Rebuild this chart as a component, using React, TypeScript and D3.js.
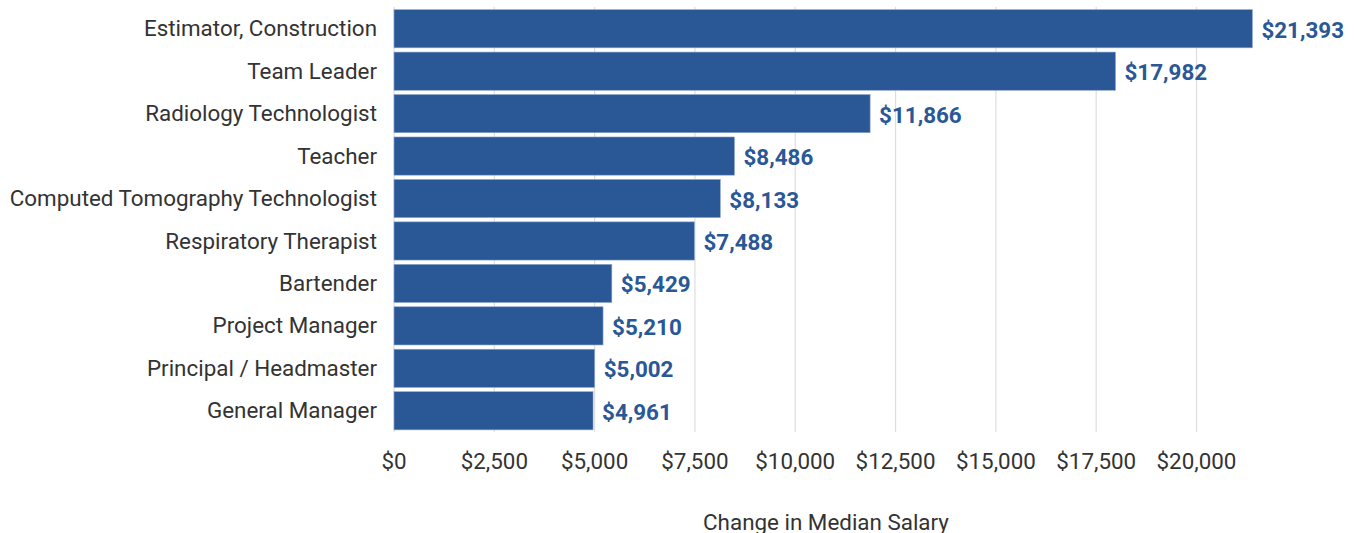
import * as d3 from 'd3';

const categories = [
  'Estimator, Construction',
  'Team Leader',
  'Radiology Technologist',
  'Teacher',
  'Computed Tomography Technologist',
  'Respiratory Therapist',
  'Bartender',
  'Project Manager',
  'Principal / Headmaster',
  'General Manager',
];
const values = [21393, 17982, 11866, 8486, 8133, 7488, 5429, 5210, 5002, 4961];
const ticks = [0, 2500, 5000, 7500, 10000, 12500, 15000, 17500, 20000];
const axisTitle = 'Change in Median Salary';

const W = 1356;
const H = 533;
const BAR = '#2a5796';
const TEXT = '#333333';
const FONT = 'Roboto, "Noto Sans", sans-serif';
const FS = 22.4;

export default function App() {
  const x = d3.scaleLinear().domain([0, 20000]).range([394, 1196.5]);
  const y = d3
    .scaleBand<string>()
    .domain(categories)
    .range([7.5, 432])
    .paddingInner(0.1)
    .paddingOuter(0.05);
  const fmt = (v: number) => '$' + d3.format(',')(v);

  return (
    <svg
      width={W}
      height={H}
      style={{ position: 'absolute', left: 0, top: 0, background: '#fff' }}
      fontFamily={FONT}
    >
      {/* grid */}
      {ticks.map((t) => (
        <line
          key={'g' + t}
          x1={x(t)}
          x2={x(t)}
          y1={7}
          y2={432}
          stroke="#dedede"
          strokeWidth={1.2}
        />
      ))}

      {/* bars */}
      {categories.map((c, i) => (
        <rect
          key={c}
          x={x(0)}
          y={y(c)}
          width={x(values[i]) - x(0)}
          height={y.bandwidth()}
          fill={BAR}
          stroke="#8fa9cf"
          strokeWidth={0.6}
        />
      ))}

      {/* value labels */}
      {categories.map((c, i) => (
        <text
          key={'v' + c}
          x={x(values[i]) + 9}
          y={(y(c) ?? 0) + y.bandwidth() / 2 + 1}
          dy="0.36em"
          fill={BAR}
          fontSize={FS}
          fontWeight={700}
        >
          {fmt(values[i])}
        </text>
      ))}

      {/* category labels */}
      {categories.map((c) => (
        <text
          key={'c' + c}
          x={377}
          y={(y(c) ?? 0) + y.bandwidth() / 2 - 0.5}
          dy="0.36em"
          textAnchor="end"
          fill={TEXT}
          fontSize={FS}
        >
          {c}
        </text>
      ))}

      {/* x tick labels */}
      {ticks.map((t) => (
        <text
          key={'t' + t}
          x={x(t)}
          y={461}
          dy="0.36em"
          textAnchor="middle"
          fill={TEXT}
          fontSize={FS}
        >
          {fmt(t)}
        </text>
      ))}

      <text
        x={826}
        y={522}
        dy="0.36em"
        textAnchor="middle"
        fill={TEXT}
        fontSize={FS}
      >
        {axisTitle}
      </text>
    </svg>
  );
}
